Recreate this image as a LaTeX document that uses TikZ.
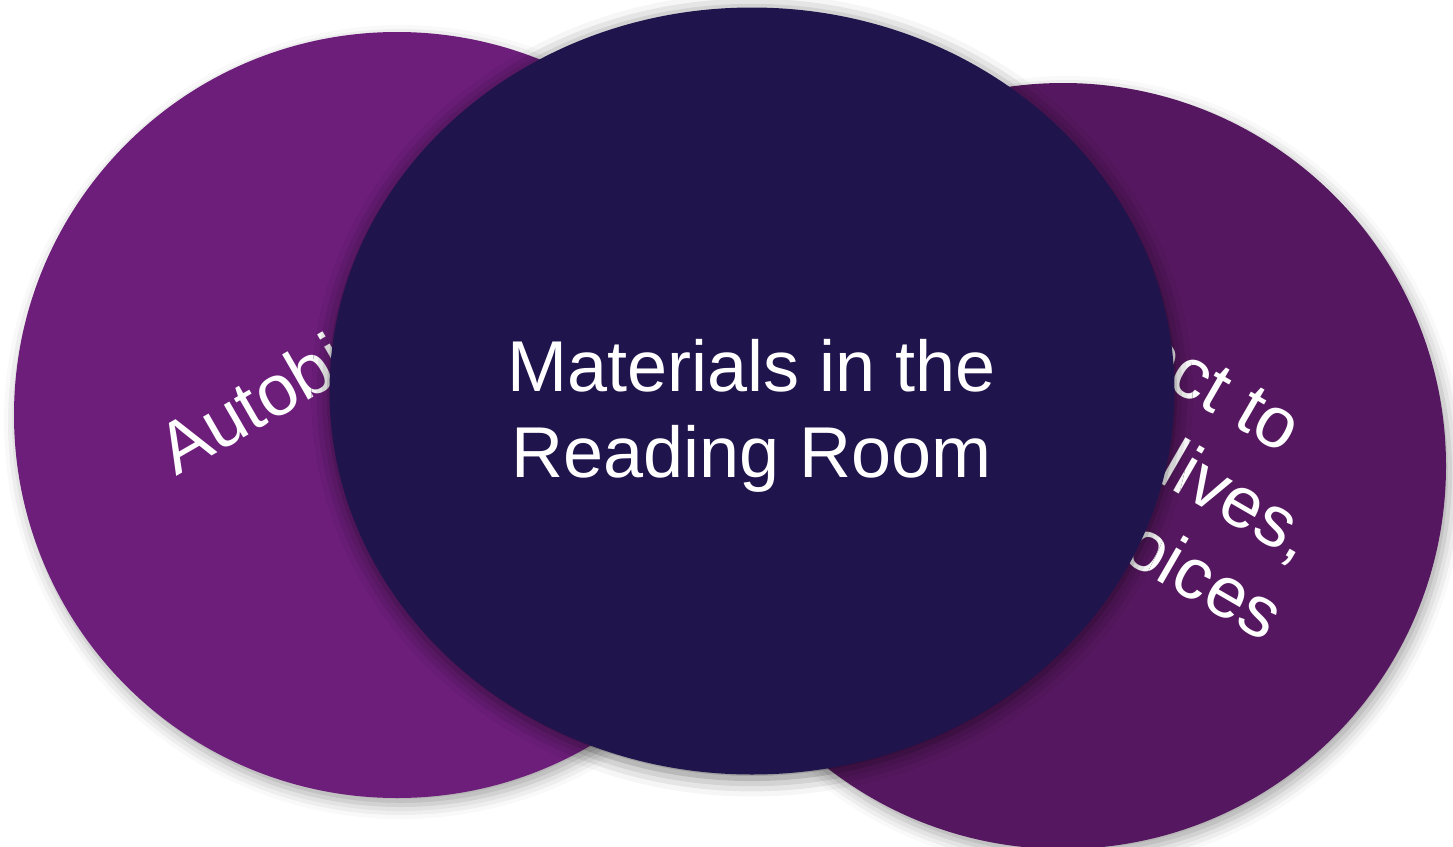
\documentclass[tikz,border=0pt]{standalone}
\usepackage{fontspec}
\setmainfont{Liberation Sans}
\usepackage{tikz}
\usetikzlibrary{shapes.geometric,shadows.blur,positioning}
\definecolor{plum}{RGB}{108,30,122}
\definecolor{grape}{RGB}{85,23,95}
\definecolor{ink}{RGB}{32,20,76}
\tikzset{
    disc/.style={
    circle,draw=none,inner sep=0pt,minimum size=766pt,
    blur shadow={shadow xshift=4pt,shadow yshift=-7pt,shadow blur radius=14pt,shadow opacity=35}
    },
    lens/.style={
    ellipse,draw=none,inner sep=0pt,minimum width=845pt,minimum height=767pt,
    blur shadow={shadow xshift=0pt,shadow yshift=-4pt,shadow blur radius=18pt,shadow opacity=55}
    },
    caption/.style={
    text=white,font=\fontsize{72}{86}\selectfont,align=center,inner sep=0pt
    },
}

\begin{document}
\begin{tikzpicture}[x=1pt,y=-1pt]
  \useasboundingbox (0,0) rectangle (1453,846);
  \clip (0,0) rectangle (1453,846);
  \node[disc,fill=plum] (L) at (397,415) {};
  \node[disc,fill=grape] (R) at (1063,466) {};
  \node[caption,rotate=30,anchor=base] (Lt) at (402,346) {Autobiographies};
  \node[caption,rotate=-30] (Rt) at (1102,421) {Connect to\\women's\hspace{14pt} lives,\\and their voices};
  \node[lens,fill=ink] (M) at (752,391) {};
  \node[caption] (Mt) at (752,416) {Materials in the\\Reading Room};
\end{tikzpicture}
\end{document}
